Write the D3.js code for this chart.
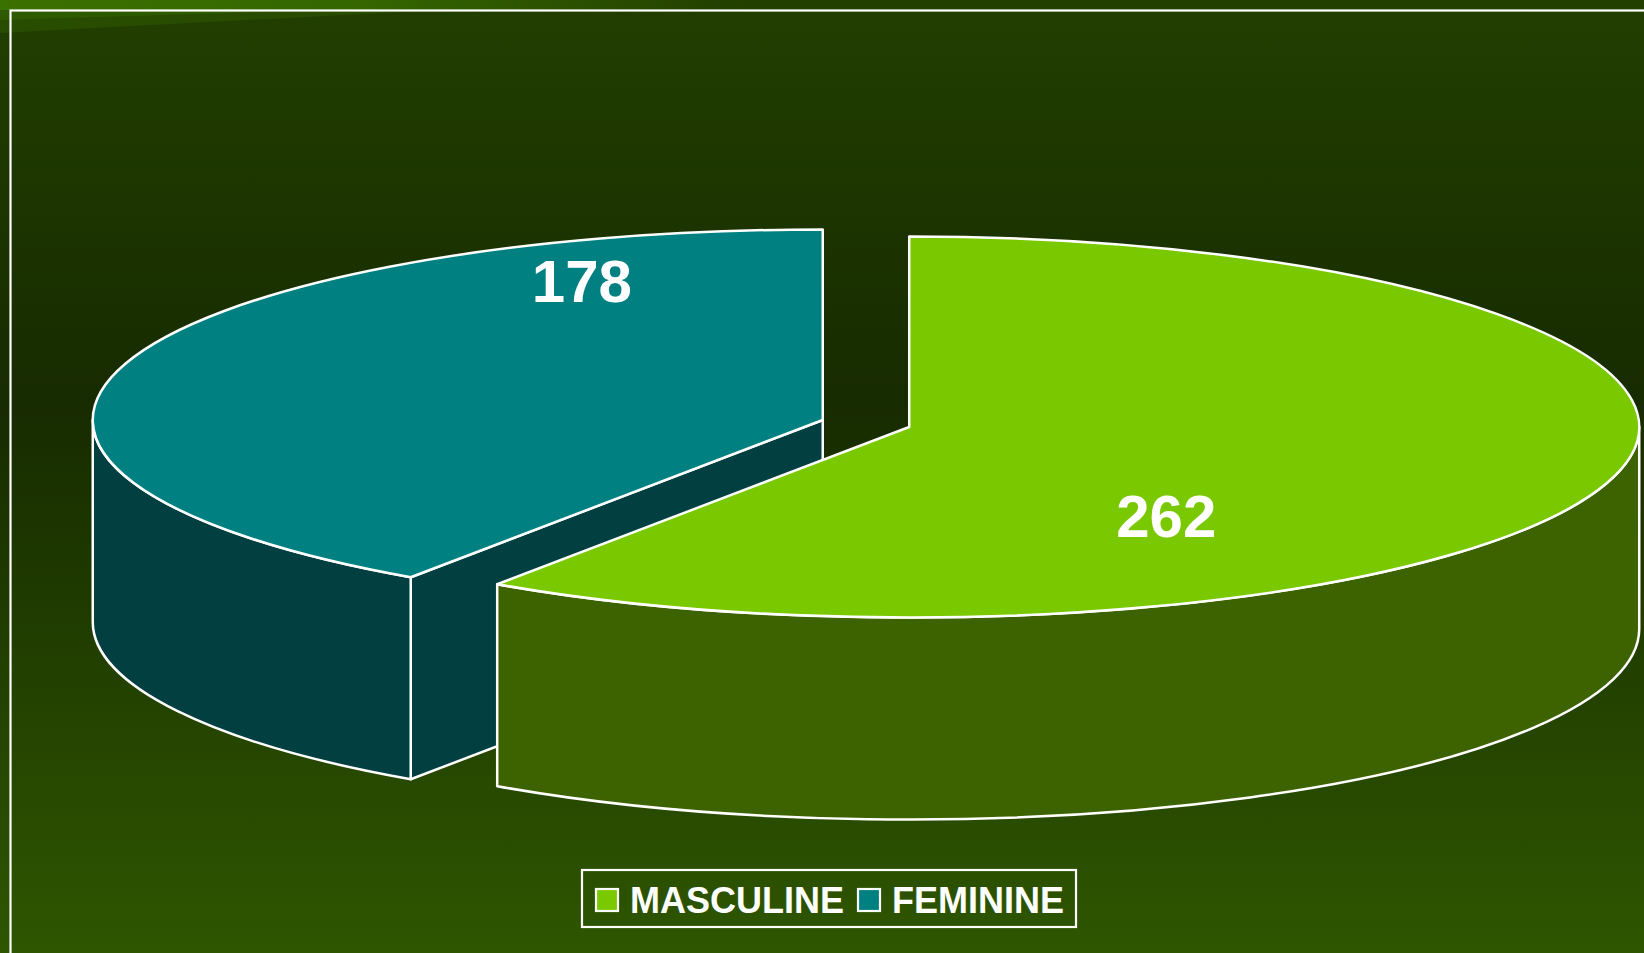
<!DOCTYPE html>
<meta charset="utf-8">
<html>
<head>
<style>
  body { margin: 0; background: #1b3300; }
  svg { display: block; }
  .lbl { font-family: "Liberation Sans", Arial, sans-serif; font-weight: bold; fill: #fff; }
</style>
</head>
<script src="https://d3js.org/d3.v7.min.js"></script>
<body>
<div id="vis"></div>
<script>
  // data
  var categories = ["MASCULINE", "FEMININE"];
  var counts = [262, 178];

  var width = 1644, height = 953;

  // pie geometry (3d ellipse)
  var cx = 866, cy = 423.5, rx = 730, ry = 190.5, depth = 202, explode = 0.062;

  var topColor = d3.scaleOrdinal().domain(categories).range(["#7ac800", "#008080"]);
  var sideColor = d3.scaleOrdinal().domain(categories).range(["#3d6300", "#013f40"]);

  // where the value labels sit, as fraction of the radii from each slice centre
  var labelAt = { "MASCULINE": [0.352, 0.575], "FEMININE": [-0.330, -0.617] };

  var svg = d3.select("#vis").append("svg")
    .attr("width", width)
    .attr("height", height);

  var defs = svg.append("defs");
  var bg = defs.append("linearGradient").attr("id", "bg")
    .attr("x1", 0).attr("y1", 0).attr("x2", 0).attr("y2", 1);
  bg.append("stop").attr("offset", "0%").attr("stop-color", "#223f00");
  bg.append("stop").attr("offset", "42%").attr("stop-color", "#172b00");
  bg.append("stop").attr("offset", "100%").attr("stop-color", "#2e5600");

  var topband = defs.append("linearGradient").attr("id", "topband")
    .attr("x1", 0).attr("y1", 0).attr("x2", 1).attr("y2", 0);
  topband.append("stop").attr("offset", "0%").attr("stop-color", "#3b7100");
  topband.append("stop").attr("offset", "22%").attr("stop-color", "#356600");
  topband.append("stop").attr("offset", "45%").attr("stop-color", "#223f00");

  svg.append("rect").attr("width", width).attr("height", height).style("fill", "url(#bg)");

  // decorative strip at the top
  svg.append("rect").attr("width", width).attr("height", 10).style("fill", "url(#topband)");
  svg.append("path").attr("d", "M0,10 L440,10 L0,33 Z").style("fill", "#284c00");
  svg.append("path").attr("d", "M0,10 L330,10 L0,20 Z").style("fill", "#2e5b00");

  // frame
  svg.append("rect")
    .attr("x", 10.5).attr("y", 10.5)
    .attr("width", width + 50).attr("height", height + 50)
    .style("fill", "none").style("stroke", "#fff").style("stroke-width", 2.2);

  var pie = d3.pie().sort(null).value(function(d) { return d.count; })
    .startAngle(0).endAngle(2 * Math.PI);

  var rows = categories.map(function(c, i) { return { cat: c, count: counts[i] }; });
  var slices = pie(rows);

  slices.forEach(function(s) {
    var mid = (s.startAngle + s.endAngle) / 2;
    s.ox = cx + explode * rx * Math.sin(mid);
    s.oy = cy - explode * ry * Math.cos(mid);
  });

  function pt(s, a, dy) {
    return [s.ox + rx * Math.sin(a), s.oy - ry * Math.cos(a) + (dy || 0)];
  }

  function topPath(s) {
    var p0 = pt(s, s.startAngle), p1 = pt(s, s.endAngle);
    var large = (s.endAngle - s.startAngle) > Math.PI ? 1 : 0;
    return "M" + s.ox + "," + s.oy + "L" + p0 + "A" + rx + "," + ry + " 0 " + large + " 1 " + p1 + "Z";
  }

  function outerPath(s) {
    var b0 = Math.max(s.startAngle, Math.PI / 2), b1 = Math.min(s.endAngle, 3 * Math.PI / 2);
    if (b1 <= b0) return null;
    var large = (b1 - b0) > Math.PI ? 1 : 0;
    return "M" + pt(s, b0) + "A" + rx + "," + ry + " 0 " + large + " 1 " + pt(s, b1) +
      "L" + pt(s, b1, depth) + "A" + rx + "," + ry + " 0 " + large + " 0 " + pt(s, b0, depth) + "Z";
  }

  function wallPath(s, a) {
    return "M" + s.ox + "," + s.oy + "L" + pt(s, a) + "L" + pt(s, a, depth) +
      "L" + s.ox + "," + (s.oy + depth) + "Z";
  }

  var eps = 1e-6;
  var order = slices.slice().sort(function(a, b) { return a.oy - b.oy; });

  var g = svg.append("g")
    .style("stroke", "#fff").style("stroke-width", 2.5).style("stroke-linejoin", "round");

  order.forEach(function(s) {
    var sg = g.append("g").attr("class", "slice");
    if (Math.sin(s.startAngle) < -eps) {
      sg.append("path").attr("d", wallPath(s, s.startAngle)).style("fill", sideColor(s.data.cat));
    }
    if (Math.sin(s.endAngle) > eps) {
      sg.append("path").attr("d", wallPath(s, s.endAngle)).style("fill", sideColor(s.data.cat));
    }
    var op = outerPath(s);
    if (op) sg.append("path").attr("d", op).style("fill", sideColor(s.data.cat));
    sg.append("path").attr("d", topPath(s)).style("fill", topColor(s.data.cat));
  });

  svg.selectAll(".val")
    .data(slices)
    .enter().append("text")
    .attr("class", "lbl val")
    .attr("x", function(d) { return d.ox + labelAt[d.data.cat][0] * rx; })
    .attr("y", function(d) { return d.oy + labelAt[d.data.cat][1] * ry; })
    .attr("text-anchor", "middle")
    .style("font-size", "60px")
    .text(function(d) { return d.data.count; });

  // legend
  var legend = svg.append("g").attr("transform", "translate(582,870)");
  var box = legend.append("rect")
    .attr("height", 57)
    .style("fill", "none").style("stroke", "#fff").style("stroke-width", 2.2);

  var xpos = 14;
  categories.forEach(function(c) {
    legend.append("rect")
      .attr("x", xpos).attr("y", 19).attr("width", 22).attr("height", 22)
      .style("fill", topColor(c)).style("stroke", "#fff").style("stroke-width", 2.2);
    var t = legend.append("text")
      .attr("class", "lbl")
      .attr("x", xpos + 34).attr("y", 43)
      .style("font-size", "36px")
      .text(c);
    xpos += 34 + t.node().getComputedTextLength() + 14;
  });
  box.attr("width", xpos - 14 + 12);
</script>
</body>
</html>
